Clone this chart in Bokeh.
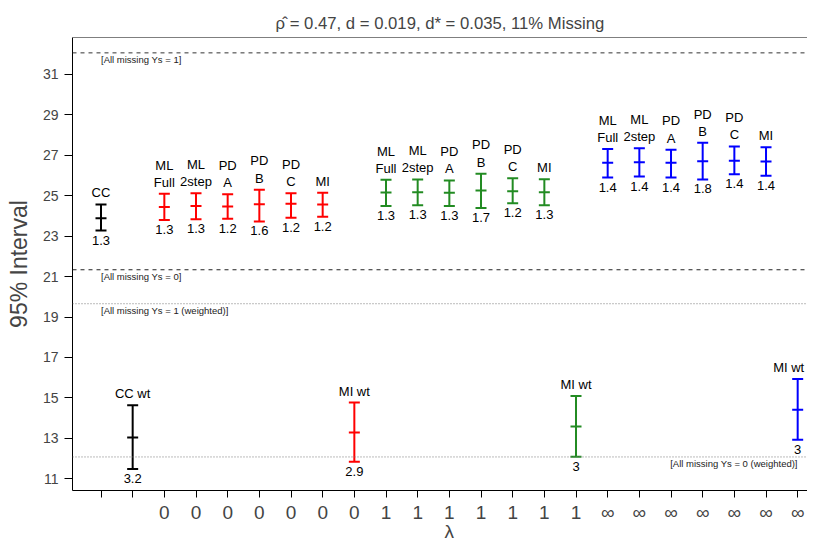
from bokeh.plotting import figure
from bokeh.models import Range1d, FixedTicker, Span, ColumnDataSource
from bokeh.core.properties import value
from bokeh.embed import file_html
from bokeh.resources import INLINE

# ---------------- data ----------------
title_text = "\u03c1\u0302 = 0.47, d = 0.019, d* = 0.035, 11% Missing"
x_label = "\u03bb"
y_label = "95% Interval"

positions = list(range(1, 24))
method_labels = ["CC", "CC wt",
                 "ML\nFull", "ML\n2step", "PD\nA", "PD\nB", "PD\nC", "MI", "MI wt",
                 "ML\nFull", "ML\n2step", "PD\nA", "PD\nB", "PD\nC", "MI", "MI wt",
                 "ML\nFull", "ML\n2step", "PD\nA", "PD\nB", "PD\nC", "MI", "MI wt"]
lower = [23.28, 11.48,
         23.80, 23.84, 23.86, 23.73, 23.91, 23.96, 11.84,
         24.50, 24.53, 24.49, 24.39, 24.63, 24.53, 12.09,
         25.90, 25.95, 25.90, 25.81, 26.07, 25.99, 12.93]
center = [23.89, 13.04,
          24.45, 24.49, 24.47, 24.58, 24.60, 24.57, 13.29,
          25.16, 25.18, 25.15, 25.26, 25.23, 25.18, 13.59,
          26.63, 26.66, 26.63, 26.71, 26.73, 26.70, 14.41]
upper = [24.57, 14.64,
         25.10, 25.12, 25.08, 25.30, 25.13, 25.15, 14.77,
         25.79, 25.81, 25.76, 26.09, 25.87, 25.82, 15.09,
         27.32, 27.35, 27.28, 27.62, 27.44, 27.40, 15.93]
width_labels = ["1.3", "3.2",
                "1.3", "1.3", "1.2", "1.6", "1.2", "1.2", "2.9",
                "1.3", "1.3", "1.3", "1.7", "1.2", "1.3", "3",
                "1.4", "1.4", "1.4", "1.8", "1.4", "1.4", "3"]
lambda_group = ["", "", "0", "0", "0", "0", "0", "0", "0",
                "1", "1", "1", "1", "1", "1", "1",
                "\u221e", "\u221e", "\u221e", "\u221e", "\u221e", "\u221e", "\u221e"]
group_color = ["black", "black"] + ["#ff0000"] * 7 + ["#228b22"] * 7 + ["#0000ff"] * 7
y_ticks = [11, 13, 15, 17, 19, 21, 23, 25, 27, 29, 31]

ref_values = [32.07, 21.34, 19.66, 12.08]
ref_labels = ["[All missing Ys = 1]", "[All missing Ys = 0]",
              "[All missing Ys = 1 (weighted)]", "[All missing Ys = 0 (weighted)]"]
ref_dash = ["4 4", "4 4", "1 2", "1 2"]
ref_color = ["#333333", "#222222", "#777777", "#777777"]

# ---------------- figure ----------------
FONT = "Liberation Sans"
x_lo, x_hi = 0.10, 23.31
y_lo, y_hi = 10.42, 32.83

p = figure(width=807, height=545, output_backend="svg", toolbar_location=None,
           x_range=Range1d(x_lo, x_hi), y_range=Range1d(y_lo, y_hi),
           min_border_left=72, min_border_right=0, min_border_top=37, min_border_bottom=55)
p.outline_line_color = None
p.xgrid.visible = False
p.ygrid.visible = False
p.background_fill_color = "white"
p.border_fill_color = "white"

p.title.text = title_text
p.title.align = "center"
p.title.text_font = FONT
p.title.text_font_size = "16.7px"
p.title.text_font_style = "normal"
p.title.standoff = 10

# axes
p.yaxis.ticker = FixedTicker(ticks=y_ticks)
p.yaxis.major_tick_in = 0
p.yaxis.major_tick_out = 8
p.yaxis.minor_tick_line_color = None
p.yaxis.major_label_text_font = FONT
p.yaxis.major_label_text_font_size = "14px"
p.yaxis.major_label_standoff = 6
p.yaxis.axis_label = y_label
p.yaxis.axis_label_text_font = FONT
p.yaxis.axis_label_text_font_size = "23px"
p.yaxis.axis_label_text_font_style = "normal"
p.yaxis.axis_label_standoff = 8

# x tick labels; the axis title (lambda) sits under the middle tick label,
# as in the original, so it is given as the second line of that label
mid_tick = positions[len(positions) // 2]
overrides = {pos: lab for pos, lab in zip(positions, lambda_group)}
overrides[mid_tick] = overrides[mid_tick] + "\n" + x_label
p.xaxis.ticker = FixedTicker(ticks=positions)
p.xaxis.major_label_overrides = overrides
p.xaxis.major_tick_in = 0
p.xaxis.major_tick_out = 7
p.xaxis.minor_tick_line_color = None
p.xaxis.major_label_text_font = FONT
p.xaxis.major_label_text_font_size = "19px"
p.xaxis.major_label_text_line_height = 0.95
p.xaxis.major_label_standoff = 4

# top frame line
p.add_layout(Span(location=y_hi, dimension="width", line_color="black", line_width=1))

# reference lines
for val, dash, col in zip(ref_values, ref_dash, ref_color):
    p.add_layout(Span(location=val, dimension="width", line_color=col,
                      line_dash=dash, line_width=1))
ref_src = ColumnDataSource(dict(x=[1, 1, 1, 23], y=ref_values, t=ref_labels,
                                align=["left", "left", "left", "right"]))
p.text(x="x", y="y", text="t", source=ref_src, text_align="align",
       text_baseline="middle", y_offset=7, text_font=value(FONT),
       text_font_size="9.5px", text_color="#222222")

# error bars
label_shift = [0] * (len(positions) - 1) + [-9]   # keep last label inside the canvas
src = ColumnDataSource(dict(x=positions, lo=lower, mid=center, hi=upper,
                            lab=method_labels, w=width_labels, c=group_color,
                            dx=label_shift))
p.segment(x0="x", y0="lo", x1="x", y1="hi", source=src, line_color="c", line_width=2)
for col in ["lo", "mid", "hi"]:
    p.scatter(x="x", y=col, source=src, marker="dash", size=11,
              line_color="c", line_width=2)

p.text(x="x", y="hi", text="lab", source=src, text_align="center",
       text_baseline="bottom", y_offset=-4, x_offset="dx", text_font=value(FONT),
       text_font_size="13px", text_color="black", text_line_height=1.15)
p.text(x="x", y="lo", text="w", source=src, text_align="center",
       text_baseline="top", y_offset=5, text_font=value(FONT),
       text_font_size="13px", text_color="black")

open("out.html", "w").write(file_html(p, INLINE))
